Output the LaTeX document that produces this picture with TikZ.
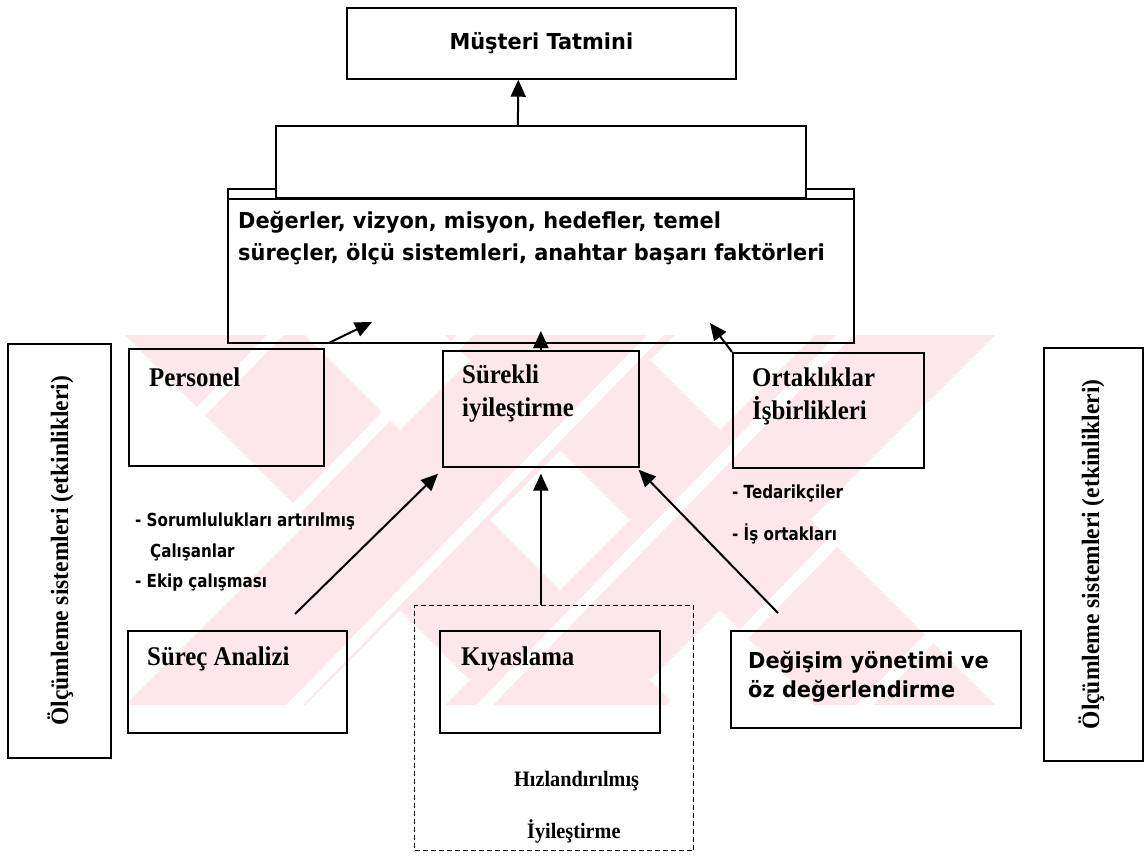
\documentclass[tikz,border=0pt]{standalone}
\usepackage{fontspec}
\usetikzlibrary{arrows.meta}
\newfontfamily\sansB[FakeStretch=0.95]{DejaVu Sans}
\newfontfamily\narrowB[FakeStretch=0.84]{DejaVu Sans}
\newfontfamily\serifB[FakeStretch=0.92]{Liberation Serif}
\newfontfamily\serifV[FakeStretch=0.94]{Liberation Serif}
\definecolor{wmpink}{RGB}{252,231,235}
\tikzset{
  box/.style={draw, line width=1.7pt, inner sep=0pt, anchor=north west},
  dashbox/.style={draw, line width=1.2pt, dash pattern=on 5pt off 3pt, inner sep=0pt, anchor=north west},
  sanslbl/.style={font=\sansB\bfseries\fontsize{22}{32}\selectfont, inner sep=0pt, align=left},
  seriflbl/.style={font=\serifB\bfseries\fontsize{27}{33}\selectfont, inner sep=0pt, align=left},
  smallserif/.style={font=\serifB\bfseries\fontsize{22}{24}\selectfont, inner sep=0pt},
  vertlbl/.style={font=\serifV\bfseries\fontsize{25}{28}\selectfont, inner sep=0pt, rotate=90},
  narrowlbl/.style={font=\narrowB\bfseries\fontsize{18}{20}\selectfont, inner sep=0pt, anchor=west},
  arr/.style={line width=2pt, -{Triangle[length=17pt,width=15pt]}},
  wmstripe/.style={white, line width=12pt},
}
\begin{document}
\begin{tikzpicture}[x=1pt,y=-1pt]
\useasboundingbox (0,0) rectangle (1147,857);
% watermark
\begin{scope}
\clip (112,335) rectangle (1100,705);
\fill[wmpink] (125,335) -- (305,335) -- (675,705) -- (495,705) -- cycle;
\fill[wmpink] (495,335) -- (675,335) -- (305,705) -- (125,705) -- cycle;
\fill[wmpink] (445,335) -- (625,335) -- (995,705) -- (815,705) -- cycle;
\fill[wmpink] (815,335) -- (995,335) -- (625,705) -- (445,705) -- cycle;
\foreach \s in {0,190,...,1200}{
  \draw[wmstripe] (\s-100,720) -- (\s+290,320);
}
\end{scope}
% boxes
\node[box, minimum width=389, minimum height=71, sanslbl] (mt) at (346,7) {Müşteri Tatmini};
\node[box, minimum width=626, minimum height=154] (main) at (227,188) {};
\node[box, fill=white, minimum width=530, minimum height=72] (wbox) at (275,125) {};
\draw[line width=1.7pt] (main.west |- wbox.south) -- (main.east |- wbox.south);
\node[sanslbl, anchor=west] (maintxt) at (238,238) {Değerler, vizyon, misyon, hedefler, temel\\süreçler, ölçü sistemleri, anahtar başarı faktörleri};

\node[box, minimum width=195, minimum height=117] (pers) at (128,348) {};
\node[seriflbl, anchor=west] (perst) at (149,377) {Personel};
\node[box, minimum width=196, minimum height=116] (sur) at (442,350) {};
\node[seriflbl, anchor=west] (surt) at (462,394) {Sürekli\\iyileştirme};
\node[box, minimum width=191, minimum height=115] (ort) at (732,352) {};
\node[seriflbl, anchor=west] (ortt) at (752,396) {Ortaklıklar\\İşbirlikleri};

\node[narrowlbl] (l1) at (135,521) {- Sorumlulukları artırılmış};
\node[narrowlbl] (l2) at (150,552) {Çalışanlar};
\node[narrowlbl] (l3) at (135,583) {- Ekip çalışması};
\node[narrowlbl] (r1) at (732,493) {- Tedarikçiler};
\node[narrowlbl] (r2) at (732,534) {- İş ortakları};

\node[box, minimum width=219, minimum height=102] (sa) at (127,630) {};
\node[seriflbl, anchor=west] (sat) at (147,659) {Süreç Analizi};
\node[dashbox, minimum width=279, minimum height=245] (dash) at (414,605) {};
\node[box, minimum width=220, minimum height=102] (kiy) at (439,630) {};
\node[seriflbl, anchor=west] (kiyt) at (461,659) {Kıyaslama};
\node[smallserif, anchor=west] (hiz) at (514,781) {Hızlandırılmış};
\node[smallserif, anchor=west] (iyi) at (527,831) {İyileştirme};
\node[box, minimum width=290, minimum height=97] (dy) at (730,630) {};
\node[sanslbl, anchor=west] (dyt) at (748,677) {Değişim yönetimi ve\\[-3pt]öz değerlendirme};

\node[box, minimum width=103, minimum height=414] (lm) at (7,343) {};
\node[vertlbl] (lmt) at ([xshift=1pt]lm.center) {Ölçümleme sistemleri (etkinlikleri)};
\node[box, minimum width=99, minimum height=413] (rm) at (1043,347) {};
\node[vertlbl] (rmt) at ([xshift=-2pt]rm.center) {Ölçümleme sistemleri (etkinlikleri)};

% connectors
\coordinate (sastart) at (295,614);
\coordinate (dystart) at (778,613);
\coordinate (ptip) at (372,322);
\coordinate (otip) at (710,323);
\draw[arr] ([xshift=-23pt]wbox.north) -- ([xshift=-23pt]mt.south);
\draw[arr] ([shift={(4pt,5pt)}]pers.north east) -- (ptip);
\draw[arr] (sur.north) -- ([yshift=19pt]sur.north);
\draw[arr] (ort.north west) -- (otip);
\draw[arr] (sastart) -- ([shift={(-4pt,-6pt)}]sur.south west);
\draw[arr] (dash.north -| sur.south) -- ([yshift=-6pt]sur.south);
\draw[arr] (dystart) -- ([shift={(-1pt,-2pt)}]sur.south east);
\end{tikzpicture}
\end{document}
